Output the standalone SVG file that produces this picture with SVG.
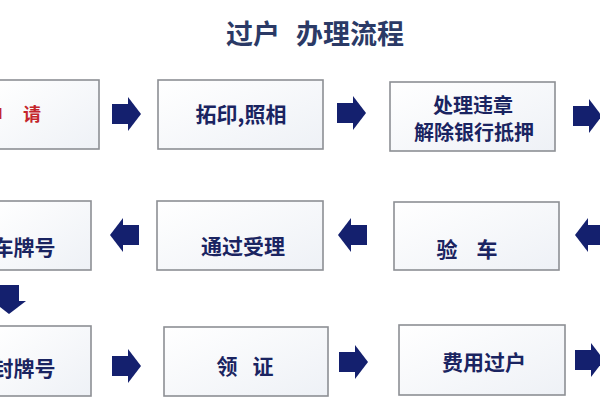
<svg xmlns="http://www.w3.org/2000/svg" width="600" height="400" viewBox="0 0 600 400">
<defs>
<linearGradient id="bg" x1="0" y1="0" x2="1" y2="1">
<stop offset="0" stop-color="#ffffff"/>
<stop offset="1" stop-color="#eef1f6"/>
</linearGradient>
<g id="arr"><rect x="-15" y="-10" width="17" height="20"/><polygon points="1,-17 14,0 1,17"/></g>
</defs>
<style>
.box{fill:url(#bg);stroke:#8d8f94;stroke-width:1.6}
.t{font-family:"Noto Sans CJK SC","Noto Sans",sans-serif;font-weight:bold;font-size:21px;fill:#1a2461;text-anchor:middle;dominant-baseline:central}
.red{fill:#c4262c}
.a{fill:#14206e}
</style>
<rect width="600" height="400" fill="#ffffff"/>
<text class="t" style="font-size:27px;fill:#2b3a66"><tspan x="253" y="32">过户</tspan><tspan x="350" y="32">办理流程</tspan></text>

<g id="n1"><rect class="box" x="-5" y="80" width="104" height="69"/><text class="t red" style="font-size:18px"><tspan x="-6" y="113">申</tspan><tspan x="32" y="113">请</tspan></text></g>
<g id="n2"><rect class="box" x="158" y="80" width="165" height="69"/><text class="t" x="241" y="113">拓印,照相</text></g>
<g id="n3"><rect class="box" x="390" y="82" width="165" height="69"/><text class="t" style="font-size:20px" x="473" y="104">处理违章</text><text class="t" style="font-size:20px" x="474" y="131">解除银行抵押</text></g>

<g id="n4"><rect class="box" x="-5" y="201" width="96" height="69"/><text class="t" x="24" y="246">车牌号</text></g>
<g id="n5"><rect class="box" x="157" y="201" width="166" height="69"/><text class="t" x="243" y="245">通过受理</text></g>
<g id="n6"><rect class="box" x="394" y="202" width="165" height="68"/><text class="t"><tspan x="447" y="248">验</tspan><tspan x="487" y="248">车</tspan></text></g>

<g id="n7"><rect class="box" x="-5" y="326" width="96" height="70"/><text class="t" x="24" y="367">封牌号</text></g>
<g id="n8"><rect class="box" x="164" y="327" width="164" height="69"/><text class="t"><tspan x="227" y="365">领</tspan><tspan x="263" y="365">证</tspan></text></g>
<g id="n9"><rect class="box" x="399" y="325" width="166" height="70"/><text class="t" x="484" y="361">费用过户</text></g>

<g id="connectors" class="a">
<use href="#arr" transform="translate(127,114)"/>
<use href="#arr" transform="translate(352,113)"/>
<use href="#arr" transform="translate(588,116)"/>
<use href="#arr" transform="translate(589,235) scale(-1,1)"/>
<use href="#arr" transform="translate(352,235) scale(-1,1)"/>
<use href="#arr" transform="translate(124,235) scale(-1,1)"/>
<use href="#arr" transform="translate(9,300) rotate(90)"/>
<use href="#arr" transform="translate(127,366)"/>
<use href="#arr" transform="translate(354,362)"/>
<use href="#arr" transform="translate(590,360)"/>
</g>
</svg>
